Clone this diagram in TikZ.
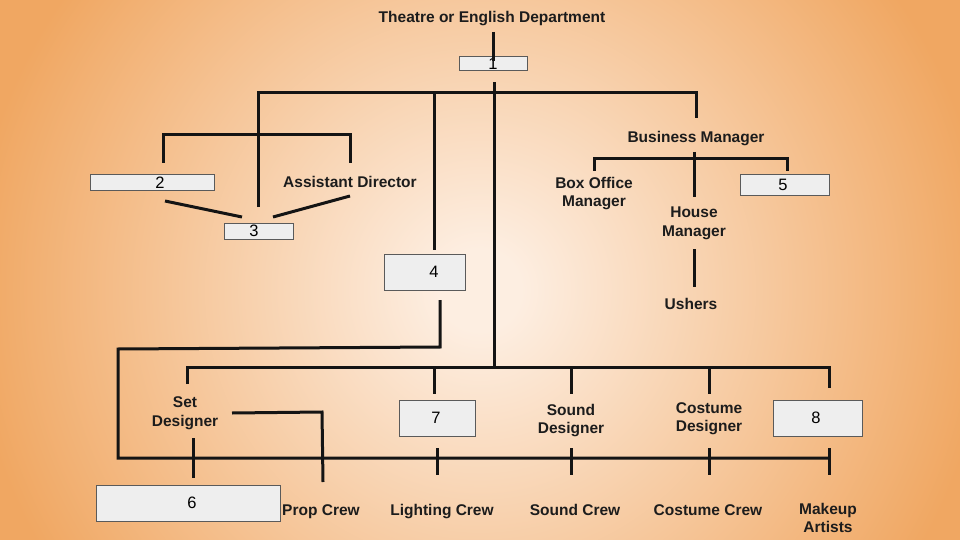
\documentclass[tikz,border=0pt]{standalone}
\usepackage{fontspec}
\setmainfont{Liberation Sans}
\usetikzlibrary{positioning,calc}

\definecolor{bgcentre}{HTML}{FDEEE1}
\definecolor{bgedge}{HTML}{F0A762}
\definecolor{boxfill}{HTML}{EEEEEE}
\definecolor{boxline}{HTML}{5A5A5A}
\definecolor{inktext}{HTML}{1C1C1C}
\pgfdeclareradialshading{stagelight}{\pgfpoint{0bp}{0bp}}{color(0bp)=(bgcentre); color(2bp)=(bgcentre); color(25bp)=(bgedge); color(50bp)=(bgedge)}

\tikzset{
  role/.style={font=\bfseries\fontsize{15.5}{18.5}\selectfont, text=inktext, align=center, inner sep=0pt},
  oneline/.style={role, text height=11.1pt, text depth=0pt},
  numbox/.style={draw=boxline, fill=boxfill, line width=1pt, inner sep=0pt},
  numtxt/.style={font=\fontsize{16.5}{18}\selectfont, text=black, inner sep=0pt},
  link/.style={line width=3pt, draw=black!92}
}

\begin{document}
\begin{tikzpicture}[x=1pt,y=-1pt]
  \useasboundingbox (0,0) rectangle (960,540);
  \begin{scope}
    \clip (0,0) rectangle (960,540);
    \fill[bgedge] (0,0) rectangle (960,540);
    \shade[shading=stagelight] (480,290) circle (510pt);
  \end{scope}
  % roles
  \node[oneline] (dept) at (492,17) {Theatre or English Department};
  \node[oneline] (bm) at (696,136.5) {Business Manager};
  \node[oneline] (asst) at (350,182) {Assistant Director};
  \node[role] (boxoffice) at (594,193.5) {Box Office\\Manager};
  \node[role] (house) at (694,223.5) {House\\Manager};
  \node[oneline] (ushers) at (691,303.5) {Ushers};
  \node[role] (setdes) at (185,413) {Set\\Designer};
  \node[role] (sounddes) at (571,420.5) {Sound\\Designer};
  \node[role] (costdes) at (709,418.5) {Costume\\Designer};
  \node[oneline] (prop) at (321,510) {Prop Crew};
  \node[oneline] (light) at (442,510) {Lighting Crew};
  \node[oneline] (soundcrew) at (575,510) {Sound Crew};
  \node[oneline] (costcrew) at (708,510) {Costume Crew};
  \node[role] (makeup) at (828,518) {Makeup\\Artists};
  % numbered boxes
  \node[numbox, minimum width=68, minimum height=14, label={[numtxt]center:1}] (box1) at (493,64) {};
  \node[numbox, minimum width=124, minimum height=15, label={[numtxt,xshift=8]center:2}] (box2) at (152,182.5) {};
  \node[numbox, minimum width=69, minimum height=16, label={[numtxt,xshift=-4.5]center:3}] (box3) at (258.5,231) {};
  \node[numbox, minimum width=81, minimum height=36, label={[numtxt,xshift=9.5]center:4}] (box4) at (424.5,272) {};
  \node[numbox, minimum width=89, minimum height=20, label={[numtxt,xshift=-1.5]center:5}] (box5) at (784.5,185) {};
  \node[numbox, minimum width=184, minimum height=36, label={[numtxt,xshift=4]center:6}] (box6) at (188,503) {};
  \node[numbox, minimum width=76, minimum height=36, label={[numtxt,xshift=-1]center:7}] (box7) at (437,418) {};
  \node[numbox, minimum width=89, minimum height=36, label={[numtxt,xshift=-1.5]center:8}] (box8) at (817.5,418) {};
  % junctions
  \coordinate (topbar) at (494,93);
  \coordinate (midbar) at (494,367);
  \coordinate (lowbar) at (118,458);
  % links
  \draw[link] (493,32) -- (box1.center |- 0,61);
  \draw[link] (box1.south) ++(1,11) -- (midbar);
  \draw[link] (258,207) -- (258,93) -- (bm.north |- topbar) -- (696,118);
  \draw[link] (434,93) -- (434,250);
  \draw[link] (163,163) -- (163,135) -- (asst.north |- 0,135) -- (350,163);
  \draw[link] (165,201) -- (242,217);
  \draw[link] (273,217) -- (350,196);
  \draw[link] (boxoffice.north |- 0,171) -- (594,159) -- (787,159) -- (787,171);
  \draw[link] (694,152) -- (house.north |- 0,197);
  \draw[link] (house.south |- 0,249) -- (694,287);
  \draw[link] (440,300) -- (440,347) -- (118,349) -- (lowbar) -- (829,458);
  \draw[link] (187,384) -- (187,367) -- (midbar) -- (829,367) -- (829,388);
  \foreach \x in {434,571,709} {\draw[link] (\x,367) -- (\x,394);}
  \draw[link] (232,413) -- (322,412) -- (323,482);
  \draw[link] (193,438) -- (193,478);
  \foreach \x in {437,571,709,829} {\draw[link] (\x,448) -- (\x,475);}
\end{tikzpicture}
\end{document}
